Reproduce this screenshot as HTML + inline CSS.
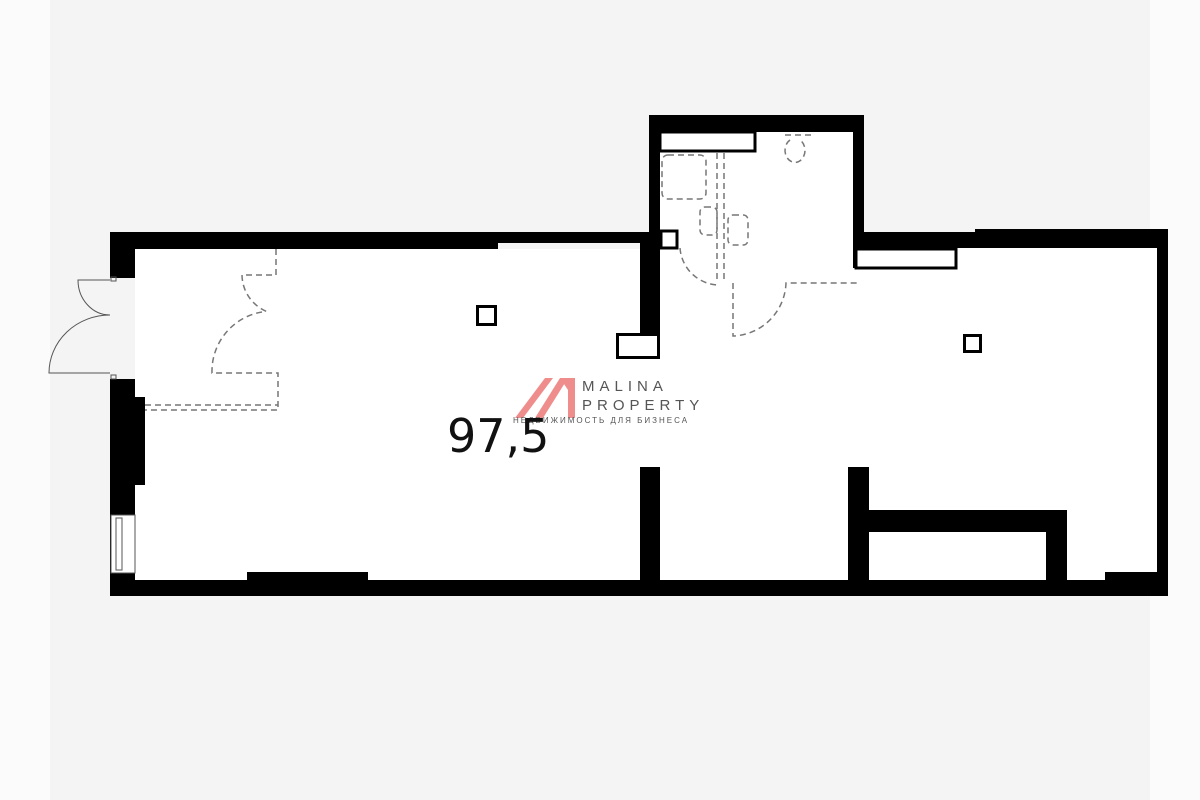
<!DOCTYPE html>
<html><head><meta charset="utf-8"><style>
html,body{margin:0;padding:0;width:1200px;height:800px;overflow:hidden;background:#fbfbfb}
svg{display:block}
</style></head><body>
<svg width="1200" height="800" viewBox="0 0 1200 800" xmlns="http://www.w3.org/2000/svg">
<rect x="0" y="0" width="1200" height="800" fill="#fbfbfb"/>
<rect x="50" y="0" width="1100" height="800" fill="#f4f4f4"/>
<rect x="135" y="249" width="505" height="331" fill="#fff"/>
<rect x="660" y="132" width="193" height="450" fill="#fff"/>
<rect x="640" y="248" width="518" height="332" fill="#fff"/>
<g fill="#000">
<rect x="110" y="232" width="530" height="11"/>
<rect x="110" y="232" width="388" height="17"/>
<rect x="110" y="232" width="25" height="46"/>
<rect x="110" y="379" width="25" height="201"/>
<rect x="135" y="397" width="10" height="88"/>
<rect x="110" y="580" width="1058" height="16"/>
<rect x="247" y="572" width="121" height="10"/>
<rect x="640" y="232" width="20" height="101"/>
<rect x="649" y="115" width="215" height="17"/>
<rect x="649" y="115" width="11" height="220"/>
<rect x="853" y="115" width="11" height="153"/>
<rect x="853" y="232" width="315" height="16"/>
<rect x="975" y="229" width="193" height="10"/>
<rect x="1157" y="232" width="11" height="364"/>
<rect x="1105" y="572" width="60" height="10"/>
<rect x="640" y="467" width="20" height="115"/>
<rect x="848" y="467" width="21" height="115"/>
<rect x="869" y="510" width="198" height="22"/>
<rect x="1046" y="510" width="21" height="72"/>
</g>
<rect x="111" y="515" width="24" height="58" fill="#fff" stroke="#555" stroke-width="1"/>
<rect x="116" y="518" width="6" height="52" fill="none" stroke="#555" stroke-width="1"/>
<rect x="617.5" y="334.5" width="41" height="23" fill="#fff" stroke="#000" stroke-width="3"/>
<rect x="661" y="231" width="16" height="17" fill="#fff" stroke="#000" stroke-width="3"/>
<rect x="660" y="132" width="95" height="19" fill="#fff" stroke="#000" stroke-width="3"/>
<rect x="856" y="249" width="100" height="19" fill="#fff" stroke="#000" stroke-width="3"/>
<rect x="477.5" y="306.5" width="18" height="18" fill="#fff" stroke="#000" stroke-width="3"/>
<rect x="964.5" y="335.5" width="16" height="16" fill="#fff" stroke="#000" stroke-width="3"/>
<g fill="none" stroke="#555" stroke-width="1">
<rect x="111" y="277" width="5" height="4"/>
<rect x="111" y="375" width="5" height="4"/>
<path d="M110 280 L78 280 A32 35 0 0 0 110 315"/>
<path d="M110 373 L49 373 A61 58 0 0 1 110 315"/>
</g>
<g fill="none" stroke="#777" stroke-width="1.5" stroke-dasharray="6,4">
<path d="M276 249 L276 275 L242 275 A40 40 0 0 0 268 312"/>
<path d="M262 312 A60 60 0 0 0 212 373 L278 373 L278 410 L145 410"/>
<path d="M145 405 L278 405"/>
<rect x="662" y="155" width="44" height="44" rx="6"/>
<path d="M717 153 L717 282 M724 153 L724 282"/>
<path d="M680 248 A40 40 0 0 0 717 285"/>
<path d="M733 283 L733 336 A55 55 0 0 0 786 283 L857 283"/>
<path d="M785 135 L812 135 M790 140 A10 12 0 1 0 800 140"/>
<rect x="700" y="207" width="17" height="28" rx="5"/>
<rect x="728" y="215" width="20" height="30" rx="5"/>
</g>
<g fill="#ef8d8d">
<polygon points="515,418 545,378 553,378 523,418"/>
<polygon points="535,418 560,378 568,378 543,418"/>
<polygon points="560,378 575,378 575,418 568,418 568,390"/>
</g>
<g font-family="Liberation Sans, DejaVu Sans, sans-serif" fill="#555">
<text x="582" y="391" font-size="15" letter-spacing="5">MALINA</text>
<text x="582" y="410" font-size="15" letter-spacing="5">PROPERTY</text>
<text x="513" y="423" font-size="8" letter-spacing="2">НЕДВИЖИМОСТЬ ДЛЯ БИЗНЕСА</text>
</g>
<text x="447" y="452" font-family="DejaVu Sans, Liberation Sans, sans-serif" font-size="46" fill="#111">97,5</text>
</svg>
</body></html>
